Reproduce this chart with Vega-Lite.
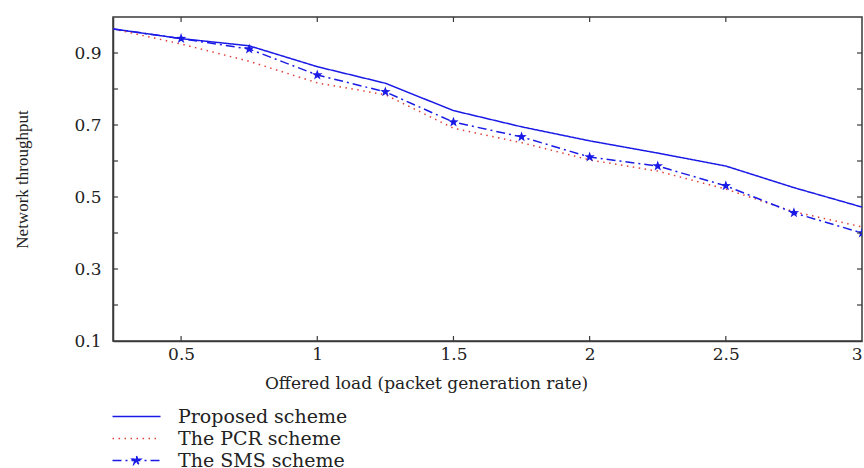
{
  "$schema": "https://vega.github.io/schema/vega-lite/v6.json",
  "width": 749,
  "height": 324,
  "autosize": {"type": "none"},
  "padding": {"left": 113, "top": 17, "right": 2, "bottom": 127},
  "background": "white",
  "config": {"view": {"stroke": "#3a3a3a", "strokeWidth": 1.5}, "font": "DejaVu Serif"},
  "datasets": {
    "lines": [
      {"x": 0.25, "y": 0.967, "scheme": "Proposed scheme"},
      {"x": 0.5, "y": 0.94, "scheme": "Proposed scheme"},
      {"x": 0.75, "y": 0.92, "scheme": "Proposed scheme"},
      {"x": 1.0, "y": 0.862, "scheme": "Proposed scheme"},
      {"x": 1.25, "y": 0.816, "scheme": "Proposed scheme"},
      {"x": 1.5, "y": 0.74, "scheme": "Proposed scheme"},
      {"x": 1.75, "y": 0.695, "scheme": "Proposed scheme"},
      {"x": 2.0, "y": 0.656, "scheme": "Proposed scheme"},
      {"x": 2.25, "y": 0.622, "scheme": "Proposed scheme"},
      {"x": 2.5, "y": 0.586, "scheme": "Proposed scheme"},
      {"x": 2.75, "y": 0.526, "scheme": "Proposed scheme"},
      {"x": 3.0, "y": 0.472, "scheme": "Proposed scheme"},
      {"x": 0.25, "y": 0.967, "scheme": "The PCR scheme"},
      {"x": 0.5, "y": 0.925, "scheme": "The PCR scheme"},
      {"x": 0.75, "y": 0.877, "scheme": "The PCR scheme"},
      {"x": 1.0, "y": 0.817, "scheme": "The PCR scheme"},
      {"x": 1.25, "y": 0.784, "scheme": "The PCR scheme"},
      {"x": 1.5, "y": 0.691, "scheme": "The PCR scheme"},
      {"x": 1.75, "y": 0.651, "scheme": "The PCR scheme"},
      {"x": 2.0, "y": 0.603, "scheme": "The PCR scheme"},
      {"x": 2.25, "y": 0.572, "scheme": "The PCR scheme"},
      {"x": 2.5, "y": 0.522, "scheme": "The PCR scheme"},
      {"x": 2.75, "y": 0.459, "scheme": "The PCR scheme"},
      {"x": 3.0, "y": 0.417, "scheme": "The PCR scheme"},
      {"x": 0.25, "y": 0.967, "scheme": "The SMS scheme"},
      {"x": 0.5, "y": 0.94, "scheme": "The SMS scheme"},
      {"x": 0.75, "y": 0.911, "scheme": "The SMS scheme"},
      {"x": 1.0, "y": 0.839, "scheme": "The SMS scheme"},
      {"x": 1.25, "y": 0.792, "scheme": "The SMS scheme"},
      {"x": 1.5, "y": 0.708, "scheme": "The SMS scheme"},
      {"x": 1.75, "y": 0.667, "scheme": "The SMS scheme"},
      {"x": 2.0, "y": 0.611, "scheme": "The SMS scheme"},
      {"x": 2.25, "y": 0.586, "scheme": "The SMS scheme"},
      {"x": 2.5, "y": 0.531, "scheme": "The SMS scheme"},
      {"x": 2.75, "y": 0.456, "scheme": "The SMS scheme"},
      {"x": 3.0, "y": 0.4, "scheme": "The SMS scheme"}
    ],
    "xticks": [
      {"tx": 0.5, "ty": 0.1}, {"tx": 1, "ty": 0.1}, {"tx": 1.5, "ty": 0.1}, {"tx": 2, "ty": 0.1}, {"tx": 2.5, "ty": 0.1},
      {"tx": 0.5, "ty": 1}, {"tx": 1, "ty": 1}, {"tx": 1.5, "ty": 1}, {"tx": 2, "ty": 1}, {"tx": 2.5, "ty": 1}
    ],
    "yticks": [
      {"tx": 0.25, "ty": 0.2}, {"tx": 0.25, "ty": 0.3}, {"tx": 0.25, "ty": 0.4}, {"tx": 0.25, "ty": 0.5}, {"tx": 0.25, "ty": 0.6},
      {"tx": 0.25, "ty": 0.7}, {"tx": 0.25, "ty": 0.8}, {"tx": 0.25, "ty": 0.9},
      {"tx": 3, "ty": 0.2}, {"tx": 3, "ty": 0.3}, {"tx": 3, "ty": 0.4}, {"tx": 3, "ty": 0.5}, {"tx": 3, "ty": 0.6},
      {"tx": 3, "ty": 0.7}, {"tx": 3, "ty": 0.8}, {"tx": 3, "ty": 0.9}
    ]
  },
  "layer": [
    {
      "data": {"name": "lines"},
      "mark": {"type": "line", "strokeWidth": 1.5, "clip": true},
      "encoding": {
        "x": {"field": "x", "type": "quantitative",
          "scale": {"domain": [0.25, 3], "nice": false, "zero": false},
          "axis": {"orient": "bottom", "values": [0.5, 1, 1.5, 2, 2.5, 3], "format": ".1~f", "grid": false, "ticks": true, "tickSize": 0, "tickOpacity": 0, "labelOverlap": false,
            "domainColor": "#3a3a3a", "domainWidth": 1.5,
            "labelFont": "DejaVu Serif", "labelFontSize": 17, "labelColor": "#222", "labelPadding": 5,
            "title": "Offered load (packet generation rate)", "titleFont": "DejaVu Serif", "titleFontSize": 17,
            "titleFontWeight": "normal", "titleColor": "#222", "titleX": 313, "titleY": 47, "titleBaseline": "alphabetic", "titleAlign": "center"}},
        "y": {"field": "y", "type": "quantitative",
          "scale": {"domain": [0.1, 1], "nice": false, "zero": false},
          "axis": {"orient": "left", "values": [0.1, 0.2, 0.3, 0.4, 0.5, 0.6, 0.7, 0.8, 0.9, 1], "format": ".1~f", "grid": false, "ticks": true, "tickSize": 0, "tickOpacity": 0, "labelOverlap": false,
            "domainColor": "#3a3a3a", "domainWidth": 1.5,
            "labelFont": "DejaVu Serif", "labelFontSize": 17, "labelColor": "#222", "labelPadding": 12,
            "title": "Network throughput", "titleFont": "Liberation Serif", "titleFontSize": 17,
            "titleFontWeight": "normal", "titleColor": "#222", "titleX": -82, "titleY": 162, "titleAngle": -90, "titleBaseline": "bottom", "titleAlign": "center"}},
        "color": {"field": "scheme", "type": "nominal",
          "scale": {"domain": ["Proposed scheme", "The PCR scheme", "The SMS scheme"], "range": ["#1a1ae6", "#e0403a", "#1a1ae6"]},
          "legend": {"title": null, "orient": "none", "legendX": 14, "legendY": 390, "direction": "vertical",
            "symbolType": "M-4.8,0H4.8", "symbolSize": 100, "symbolStrokeWidth": 1.5,
            "labelFont": "DejaVu Serif", "labelFontSize": 19, "labelColor": "#222", "labelOffset": 32, "labelLimit": 500, "rowPadding": 2, "padding": 0,
            "encode": {"symbols": {"update": {
              "shape": {"signal": "datum.value === 'The SMS scheme' ? 'M-4.8,0H4.8M0,-0.9L0.217,-0.299L0.856,-0.278L0.352,0.114L0.529,0.728L0,0.37L-0.529,0.728L-0.352,0.114L-0.856,-0.278L-0.217,-0.299Z' : 'M-4.8,0H4.8'"},
              "fill": {"signal": "datum.value === 'The SMS scheme' ? '#1a1ae6' : 'transparent'"}}}}}},
        "strokeDash": {"field": "scheme", "type": "nominal",
          "scale": {"domain": ["Proposed scheme", "The PCR scheme", "The SMS scheme"], "range": [[1, 0], [1.5, 4.5], [9, 4, 2, 4]]},
          "legend": {"title": null, "orient": "none", "legendX": 14, "legendY": 390, "direction": "vertical",
            "symbolType": "M-4.8,0H4.8", "symbolSize": 100, "symbolStrokeWidth": 1.5,
            "labelFont": "DejaVu Serif", "labelFontSize": 19, "labelColor": "#222", "labelOffset": 32, "labelLimit": 500, "rowPadding": 2, "padding": 0}}
      }
    },
    {
      "data": {"name": "lines"},
      "transform": [{"filter": "datum.scheme === 'The SMS scheme' && datum.x >= 0.5"}],
      "mark": {"type": "point", "shape": "M0,-1L0.235,-0.324L0.951,-0.309L0.38,0.124L0.588,0.809L0,0.4L-0.588,0.809L-0.38,0.124L-0.951,-0.309L-0.235,-0.324Z", "filled": true, "size": 120, "color": "#1a1ae6", "opacity": 1, "clip": true},
      "encoding": {
        "x": {"field": "x", "type": "quantitative"},
        "y": {"field": "y", "type": "quantitative"}
      }
    },
    {
      "data": {"name": "xticks"},
      "mark": {"type": "tick", "orient": "vertical", "size": 10, "thickness": 1.2, "color": "#3a3a3a", "opacity": 1, "clip": true},
      "encoding": {
        "x": {"field": "tx", "type": "quantitative"},
        "y": {"field": "ty", "type": "quantitative"}
      }
    },
    {
      "data": {"name": "yticks"},
      "mark": {"type": "tick", "orient": "horizontal", "size": 10, "thickness": 1.2, "color": "#3a3a3a", "opacity": 1, "clip": true},
      "encoding": {
        "x": {"field": "tx", "type": "quantitative"},
        "y": {"field": "ty", "type": "quantitative"}
      }
    }
  ]
}
